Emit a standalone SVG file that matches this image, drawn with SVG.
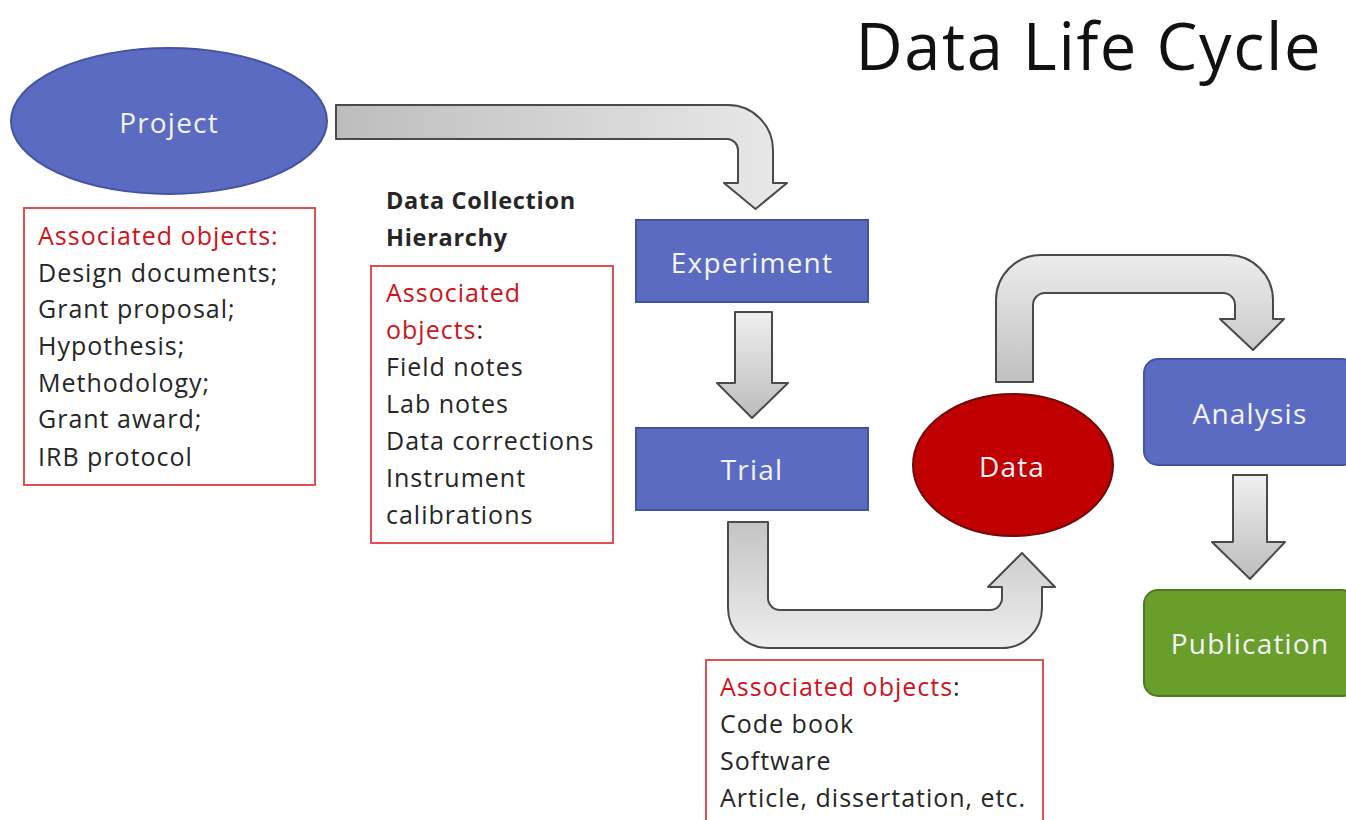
<svg xmlns="http://www.w3.org/2000/svg" width="1346" height="820" viewBox="0 0 1346 820">
<style>
.t{font-family:"Open Sans",Lato,"Liberation Sans",sans-serif}
.node{font-size:28px;letter-spacing:1.2px;fill:#f4f4fb;text-anchor:middle;dominant-baseline:central}
.body{font-size:25px;letter-spacing:1px;fill:#262626}
.red{fill:#d0121b}
.bold{font-weight:bold;font-size:23.5px;letter-spacing:0.7px;fill:#262626}
.blue{fill:#5b6bc2;stroke:#4453a0;stroke-width:2}
.assoc{fill:#fff;stroke:#e05050;stroke-width:2}
.arrow{stroke:#4a4a4a;stroke-width:2;stroke-linejoin:round}
</style>
<defs>
<linearGradient id="gH" x1="0" y1="0" x2="1" y2="0"><stop offset="0" stop-color="#bdbdbd"/><stop offset="1" stop-color="#e9e9e9"/></linearGradient>
<linearGradient id="gV" x1="0" y1="0" x2="0" y2="1"><stop offset="0" stop-color="#c4c4c4"/><stop offset="1" stop-color="#eeeeee"/></linearGradient>
<linearGradient id="gVr" x1="0" y1="0" x2="0" y2="1"><stop offset="0" stop-color="#ececec"/><stop offset="1" stop-color="#c0c0c0"/></linearGradient>
<linearGradient id="gD" x1="0" y1="0" x2="0" y2="1"><stop offset="0" stop-color="#f0f0f0"/><stop offset="1" stop-color="#bcbcbc"/></linearGradient>
</defs>

<text class="t" x="1322" y="70" font-size="65" letter-spacing="1.6" fill="#111" text-anchor="end">Data Life Cycle</text>

<g id="connectors">
<path class="arrow" fill="url(#gH)" d="M336,105 L728,105 A45,45 0 0 1 773,150 L773,183 L787,183 L755.5,209 L724,183 L738,183 L738,150 A11,11 0 0 0 727,139 L336,139 Z"/>
<path class="arrow" fill="url(#gD)" d="M735,312 L772,312 L772,383 L788,383 L752,418 L717,383 L735,383 Z"/>
<path class="arrow" fill="url(#gV)" d="M728,522 L768,522 L768,598 A12,12 0 0 0 780,610 L990,610 A12,12 0 0 0 1002,598 L1002,587 L988,587 L1022,553 L1055,587 L1042,587 L1042,608 A40,40 0 0 1 1002,648 L768,648 A40,40 0 0 1 728,608 Z"/>
<path class="arrow" fill="url(#gVr)" d="M996,382 L996,300 A45,45 0 0 1 1041,255 L1228,255 A45,45 0 0 1 1273,300 L1273,319 L1284,319 L1253,350 L1220,319 L1235,319 L1235,305 A12,12 0 0 0 1223,293 L1045,293 A12,12 0 0 0 1033,305 L1033,382 Z"/>
<path class="arrow" fill="url(#gD)" d="M1233,475 L1267,475 L1267,542 L1285,542 L1250,579 L1212,542 L1233,542 Z"/>
</g>

<g id="project">
<ellipse cx="169" cy="121" rx="158" ry="73" fill="#5b6bc2" stroke="#4453a0" stroke-width="2"/>
<text class="t node" x="169" y="122">Project</text>
</g>

<g id="project-objects">
<rect class="assoc" x="24" y="208" width="291" height="277"/>
<text class="t body"><tspan class="red" x="38" y="245">Associated objects:</tspan><tspan x="38" y="282">Design documents;</tspan><tspan x="38" y="318">Grant proposal;</tspan><tspan x="38" y="355">Hypothesis;</tspan><tspan x="38" y="392">Methodology;</tspan><tspan x="38" y="428">Grant award;</tspan><tspan x="38" y="466">IRB protocol</tspan></text>
</g>

<g id="hierarchy-label">
<text class="t bold"><tspan x="386" y="209">Data Collection</tspan><tspan x="386" y="246">Hierarchy</tspan></text>
</g>

<g id="collection-objects">
<rect class="assoc" x="371" y="266" width="242" height="277"/>
<text class="t body"><tspan class="red" x="386" y="302">Associated</tspan><tspan x="386" y="339"><tspan class="red">objects</tspan>:</tspan><tspan x="386" y="376">Field notes</tspan><tspan x="386" y="413">Lab notes</tspan><tspan x="386" y="450">Data corrections</tspan><tspan x="386" y="487">Instrument</tspan><tspan x="386" y="524">calibrations</tspan></text>
</g>

<g id="experiment">
<rect class="blue" x="636" y="220" width="232" height="82"/>
<text class="t node" x="752" y="262">Experiment</text>
</g>

<g id="trial">
<rect class="blue" x="636" y="428" width="232" height="82"/>
<text class="t node" x="752" y="469">Trial</text>
</g>

<g id="data">
<ellipse cx="1013" cy="465" rx="100" ry="71" fill="#c00000" stroke="#6b0a0a" stroke-width="2"/>
<text class="t node" x="1012" y="466" font-size="26">Data</text>
</g>

<g id="analysis">
<rect class="blue" x="1144" y="359" width="212" height="106" rx="14"/>
<text class="t node" x="1250" y="413">Analysis</text>
</g>

<g id="publication">
<rect x="1144" y="590" width="212" height="106" rx="14" fill="#6a9e2b" stroke="#4e7a1e" stroke-width="2"/>
<text class="t node" x="1250" y="643">Publication</text>
</g>

<g id="data-objects">
<rect class="assoc" x="706" y="660" width="337" height="180"/>
<text class="t body"><tspan x="720" y="696"><tspan class="red">Associated objects</tspan>:</tspan><tspan x="720" y="733">Code book</tspan><tspan x="720" y="770">Software</tspan><tspan x="720" y="807">Article, dissertation, etc.</tspan></text>
</g>
</svg>
